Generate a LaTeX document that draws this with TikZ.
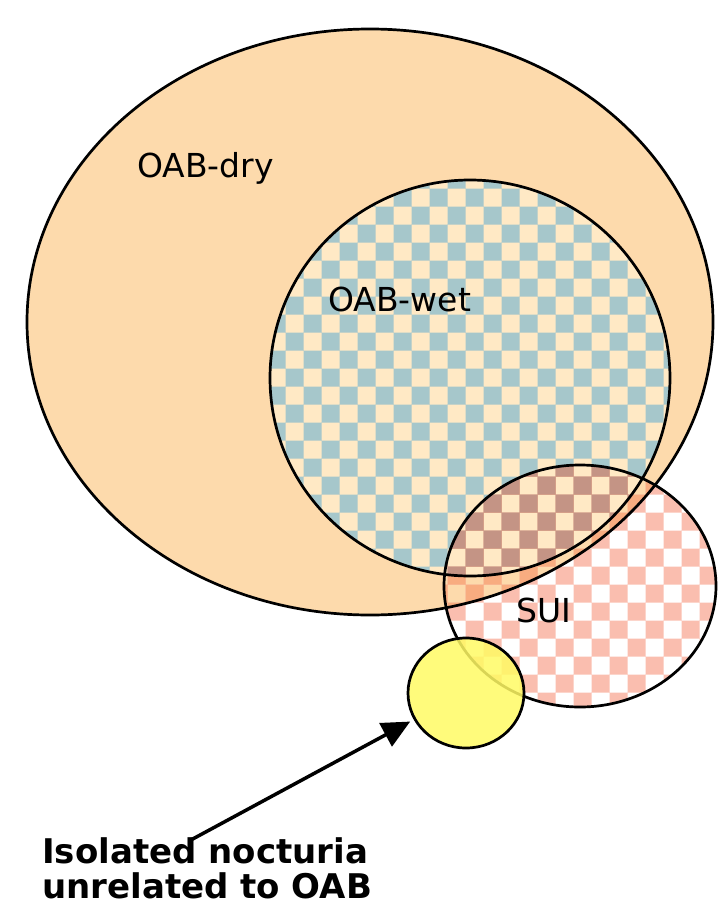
\documentclass[tikz,border=0pt]{standalone}
\usepackage{fontspec}
\setmainfont{DejaVu Sans}
\usetikzlibrary{shapes.geometric,arrows.meta}
\definecolor{peach}{RGB}{253,218,172}
\definecolor{creamc}{RGB}{255,233,197}
\definecolor{bluec}{RGB}{166,199,203}
\definecolor{pinkc}{RGB}{250,190,175}
\definecolor{brownc}{RGB}{196,148,133}
\definecolor{orangec}{RGB}{248,172,128}
\definecolor{yellowc}{RGB}{255,250,100}
\newcommand\drypath{(370,322) ellipse [x radius=343, y radius=293]}
\newcommand\wetpath{(470,378) ellipse [x radius=200, y radius=198]}
\newcommand\suipath{(580,586) ellipse [x radius=136, y radius=121]}
\newcommand\checkfill[1]{%
  \fill[#1]
    \foreach \i in {-4,-2,...,24}{\foreach \j in {-12,-10,...,18}{(303.5+18*\i,386.5+18*\j) rectangle ++(18,18)}}
    \foreach \i in {-3,-1,...,23}{\foreach \j in {-11,-9,...,17}{(303.5+18*\i,386.5+18*\j) rectangle ++(18,18)}};}
\begin{document}
\begin{tikzpicture}[x=1pt,y=-1pt,
  outline/.style={draw=black,line width=2.7pt},
  lbl/.style={font=\fontsize{33}{38}\selectfont, inner sep=0pt, anchor=base west},
  note/.style={font=\fontsize{34}{35}\selectfont\bfseries, inner sep=0pt, anchor=north west, align=left},
  pointer/.style={line width=3.5pt, -{Triangle[length=28pt,width=26pt]}, shorten >=4pt}]
\useasboundingbox (0,0) rectangle (718,908);
% OAB-dry
\fill[peach] \drypath;
% OAB-wet checker
\begin{scope}
  \clip \wetpath;
  \fill[creamc] \wetpath;
  \checkfill{bluec}
\end{scope}
% SUI checker (transparent light squares)
\begin{scope}
  \clip \suipath;
  \checkfill{pinkc}
  \begin{scope}
    \clip \drypath;
    \checkfill{orangec}
    \begin{scope}
      \clip \wetpath;
      \checkfill{brownc}
    \end{scope}
  \end{scope}
\end{scope}
% outlines
\draw[outline] \drypath;
\draw[outline] \wetpath;
\draw[outline] \suipath;
% isolated nocturia
\node[ellipse, outline, fill=yellowc, fill opacity=0.85, minimum width=116, minimum height=110, inner sep=0pt] (noc) at (466,693) {};
% labels
\node[lbl] (dry) at (137,177) {OAB-dry};
\node[lbl] (wet) at (328,311) {OAB-wet};
\node[lbl] (sui) at (516,622) {SUI};
\node[note] (txt) at (42,837) {Isolated nocturia\\unrelated to OAB};
\coordinate (tail) at (189,841);
\draw[pointer] (tail) -- (noc.207);
\end{tikzpicture}
\end{document}
